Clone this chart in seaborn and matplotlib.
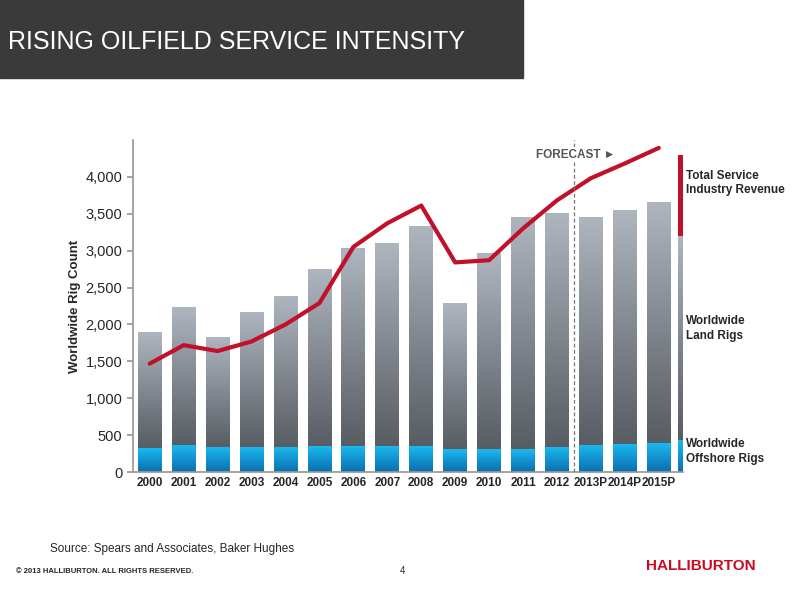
import numpy as np
import matplotlib
matplotlib.use("Agg")
import matplotlib.pyplot as plt
import seaborn as sns
from matplotlib.colors import LinearSegmentedColormap

years = ["2000","2001","2002","2003","2004","2005","2006","2007","2008","2009","2010","2011","2012","2013P","2014P","2015P"]
total_rigs = [1900,2230,1820,2160,2380,2740,3030,3090,3320,2280,2950,3440,3500,3450,3550,3640]
offshore_rigs = [320,360,330,330,330,340,340,340,340,300,310,310,330,360,370,390]
revenue_index = [1470,1720,1640,1770,2000,2290,3050,3370,3610,2840,2870,3300,3680,3980,4180,4390]

sns.set_theme(style="white")
plt.rcParams['font.family'] = ['Liberation Sans', 'DejaVu Sans']

fig = plt.figure(figsize=(8, 6), dpi=100)
ax = fig.add_axes([0.166, 0.213, 0.688, 0.554])
x = np.arange(len(years))
w = 0.7
land_cmap = LinearSegmentedColormap.from_list("land", ["#585c63", "#aeb5be"])
off_cmap = LinearSegmentedColormap.from_list("off", ["#0a6fae", "#1ab8f0"])
grad = np.linspace(0, 1, 100).reshape(-1, 1)

sns.barplot(x=x, y=total_rigs, ax=ax, color="#8a9099", width=w, native_scale=True, alpha=0)
def gbar(x0, x1, y0, y1, cmap):
    ax.imshow(grad, cmap=cmap, extent=[x0, x1, y0, y1], origin="lower", aspect="auto", zorder=2)
for i in range(len(years)):
    gbar(x[i]-w/2, x[i]+w/2, offshore_rigs[i], total_rigs[i], land_cmap)
    gbar(x[i]-w/2, x[i]+w/2, 0, offshore_rigs[i], off_cmap)

# legend strip at right
sx0, sx1 = 15.58, 15.72
gbar(sx0, sx1, 430, 3200, land_cmap)
gbar(sx0, sx1, 0, 430, off_cmap)
ax.fill_between([sx0, sx1], 3200, 4300, color="#c0102a", zorder=3, lw=0)

sns.lineplot(x=x, y=revenue_index, ax=ax, color="#c0102a", lw=3, zorder=4)
ax.axvline(12.5, color="#777777", ls=(0, (3, 2)), lw=0.9, zorder=5)
ax.text(12.55, 4300, "FORECAST ►", ha="center", va="center", fontsize=8.5, fontweight="bold",
        color="#555555", bbox=dict(facecolor="white", edgecolor="none", pad=1), zorder=6)

ax.set_xlim(-0.5, 15.72)
ax.set_ylim(0, 4500)
ax.set_yticks([0,500,1000,1500,2000,2500,3000,3500,4000])
ax.set_yticklabels(["0","500","1,000","1,500","2,000","2,500","3,000","3,500","4,000"], fontsize=10.5)
ax.set_xticks(x)
ax.set_xticklabels(years, fontsize=8.5, fontweight="bold")
ax.set_ylabel("Worldwide Rig Count", fontsize=9.5, fontweight="bold", labelpad=3)
for s in ["top", "right"]:
    ax.spines[s].set_visible(False)
ax.spines["left"].set_color("#999999")
ax.spines["bottom"].set_color("#999999")
ax.tick_params(axis="y", length=4, color="#999999", left=True)
ax.tick_params(axis="x", length=0)

fig.text(0.858, 0.695, "Total Service\nIndustry Revenue", fontsize=8.5, fontweight="bold", va="center", linespacing=1.3)
fig.text(0.858, 0.453, "Worldwide\nLand Rigs", fontsize=8.5, fontweight="bold", va="center", linespacing=1.3)
fig.text(0.858, 0.247, "Worldwide\nOffshore Rigs", fontsize=8.5, fontweight="bold", va="center", linespacing=1.3)

fig.patches.append(plt.Rectangle((0, 0.87), 0.654, 0.13, transform=fig.transFigure, color="#3a3a3a", zorder=0))
fig.text(0.01, 0.93, "RISING OILFIELD SERVICE INTENSITY", fontsize=18, color="white", va="center")
fig.text(0.062, 0.08, "Source: Spears and Associates, Baker Hughes", fontsize=8.5)
fig.text(0.02, 0.048, "© 2013 HALLIBURTON. ALL RIGHTS RESERVED.", fontsize=5.5, fontweight="bold", va="center")
fig.text(0.5, 0.048, "4", fontsize=7, va="center")
fig.text(0.945, 0.056, "HALLIBURTON", fontsize=11, fontweight="bold", color="#cc0a1e", ha="right", va="center")
fig.savefig("out.png", dpi=100)
